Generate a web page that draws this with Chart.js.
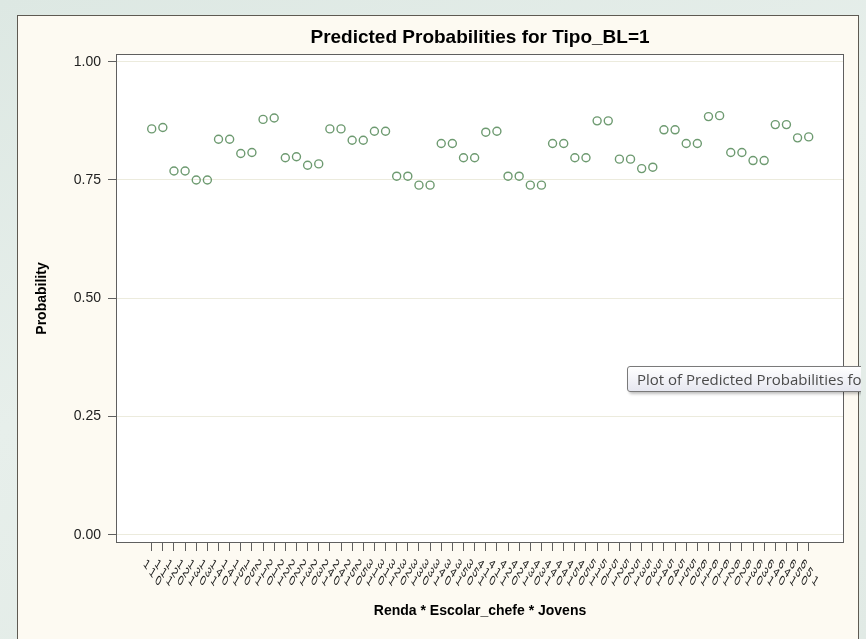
<!DOCTYPE html>
<html>
<head>
<meta charset="utf-8">
<script src="https://cdn.jsdelivr.net/npm/chart.js@4.4.0/dist/chart.umd.min.js"></script>
<style>
  html, body { margin: 0; padding: 0; }
  body { width: 866px; height: 639px; overflow: hidden; position: relative;
    background: linear-gradient(160deg, #dde8e3 0%, #e7efeb 45%, #e1eae5 100%); }
  #panel { position: absolute; left: 17px; top: 15px; width: 842px; height: 700px;
    background: #fdfaf2; border: 1px solid #5e5a52; box-sizing: border-box; }
  #wrap { position: absolute; left: 0; top: 0; width: 866px; height: 639px; }
  #tipclip { position: absolute; left: 0; top: 0; width: 861px; height: 639px; overflow: hidden; pointer-events: none; }
  #tip { position: absolute; left: 627px; top: 366px; width: 280px; height: 26px; box-sizing: border-box;
    border: 1px solid #7a7a7a; border-radius: 3px; background: linear-gradient(#ffffff, #e6e7f0);
    box-shadow: 2px 2px 3px rgba(0,0,0,0.25); font: 15px "Open Sans", "Noto Sans", sans-serif;
    color: #4a4a4a; line-height: 24px; padding-left: 9px; white-space: nowrap; }
</style>
</head>
<body>
<div id="panel"></div>
<div id="wrap"><canvas id="chart" width="866" height="639"></canvas></div>
<div id="tipclip"><div id="tip">Plot of Predicted Probabilities for Tipo_BL=1</div></div>
<script>
// factor levels (x categories = Renda * Escolar_chefe * Jovens)
const rendaLevels = ['1', '2', '3', '4', '5', '6'];
const escolarLevels = ['1', '2', '3', '4', '5'];
const jovensLevels = ['0', '1'];

// predicted probability for each combination, in the order above
const probabilities = [
  0.858, 0.861, 0.769, 0.769, 0.750, 0.750, 0.836, 0.836, 0.806, 0.808,
  0.878, 0.881, 0.797, 0.799, 0.781, 0.784, 0.858, 0.858, 0.834, 0.834,
  0.853, 0.853, 0.758, 0.758, 0.739, 0.739, 0.827, 0.827, 0.797, 0.797,
  0.851, 0.853, 0.758, 0.758, 0.739, 0.739, 0.827, 0.827, 0.797, 0.797,
  0.875, 0.875, 0.794, 0.794, 0.774, 0.777, 0.856, 0.856, 0.827, 0.827,
  0.884, 0.886, 0.808, 0.808, 0.791, 0.791, 0.867, 0.867, 0.839, 0.841
];

const yTicks = [0, 0.25, 0.5, 0.75, 1];

const categories = [];
rendaLevels.forEach(r => escolarLevels.forEach(e => jovensLevels.forEach(j => {
  categories.push(r + ' ' + e + ' ' + j);
})));

const points = probabilities.map((p, i) => ({ x: i, y: p }));

const FONT = '"Liberation Sans", Arial, sans-serif';

// white plot area + full frame
const frame = {
  id: 'frame',
  beforeDraw(chart) {
    const { ctx, chartArea: a } = chart;
    ctx.save();
    ctx.fillStyle = '#ffffff';
    ctx.fillRect(a.left, a.top, a.right - a.left, a.bottom - a.top);
    ctx.restore();
  },
  beforeDatasetsDraw(chart) {
    const { ctx, chartArea: a } = chart;
    ctx.save();
    ctx.strokeStyle = '#5f5f5f';
    ctx.lineWidth = 1;
    ctx.strokeRect(a.left + 0.5, a.top + 0.5, a.right - a.left - 1, a.bottom - a.top - 1);
    ctx.restore();
  }
};

// slanted category labels, reading downwards to the right (sheared like SAS output)
const slantLabels = {
  id: 'slantLabels',
  afterDraw(chart) {
    const { ctx } = chart;
    const xs = chart.scales.x;
    const base = 55 * Math.PI / 180;   // baseline direction
    const tilt = 30 * Math.PI / 180;   // glyph vertical tilt
    ctx.save();
    ctx.font = '12px ' + FONT;
    ctx.fillStyle = '#1a1a1a';
    ctx.textAlign = 'left';
    ctx.textBaseline = 'middle';
    categories.forEach((lab, i) => {
      const px = xs.getPixelForValue(i);
      ctx.save();
      ctx.translate(px - 7, xs.top + 19);
      ctx.transform(Math.cos(base), Math.sin(base), -Math.sin(tilt), Math.cos(tilt), 0, 0);
      ctx.fillText(lab, 0, 0);
      ctx.restore();
    });
    ctx.restore();
  }
};

new Chart(document.getElementById('chart'), {
  type: 'scatter',
  data: {
    datasets: [{
      data: points,
      showLine: false,
      pointStyle: 'circle',
      pointRadius: 4,
      pointBorderWidth: 1.4,
      borderColor: '#6d9a70',
      backgroundColor: 'rgba(0,0,0,0)'
    }]
  },
  options: {
    responsive: false,
    animation: false,
    layout: { padding: { left: 17, right: 22, top: 15, bottom: 0 } },
    plugins: {
      legend: { display: false },
      tooltip: { enabled: false },
      title: {
        display: true,
        fullSize: false,
        text: 'Predicted Probabilities for Tipo_BL=1',
        color: '#000',
        font: { family: FONT, size: 19, weight: 'bold' },
        padding: { top: 11, bottom: 5.2 }
      }
    },
    scales: {
      x: {
        type: 'linear',
        min: -3.206,
        max: 62.17,
        afterBuildTicks(axis) { axis.ticks = categories.map((c, i) => ({ value: i })); },
        afterFit(axis) { axis.height = 96; },
        ticks: { display: false },
        grid: { drawOnChartArea: false, drawTicks: true, tickLength: 8, tickColor: '#5f5f5f' },
        border: { display: false },
        title: {
          display: true,
          text: 'Renda * Escolar_chefe * Jovens',
          color: '#000',
          font: { family: FONT, size: 14, weight: 'bold' },
          padding: { top: 0, bottom: 19 }
        }
      },
      y: {
        min: -0.0175,
        max: 1.0163,
        afterBuildTicks(axis) { axis.ticks = yTicks.map(v => ({ value: v })); },
        afterFit(axis) { axis.width = 99; },
        ticks: {
          padding: 7,
          color: '#222',
          font: { family: FONT, size: 14 },
          callback: v => v.toFixed(2)
        },
        grid: { color: '#ecebdd', tickColor: '#5f5f5f', tickLength: 8 },
        border: { display: false },
        title: {
          display: true,
          text: 'Probability',
          color: '#000',
          font: { family: FONT, size: 14, weight: 'bold' },
          padding: { top: 17, bottom: 0 }
        }
      }
    }
  },
  plugins: [frame, slantLabels]
});
</script>
</body>
</html>
